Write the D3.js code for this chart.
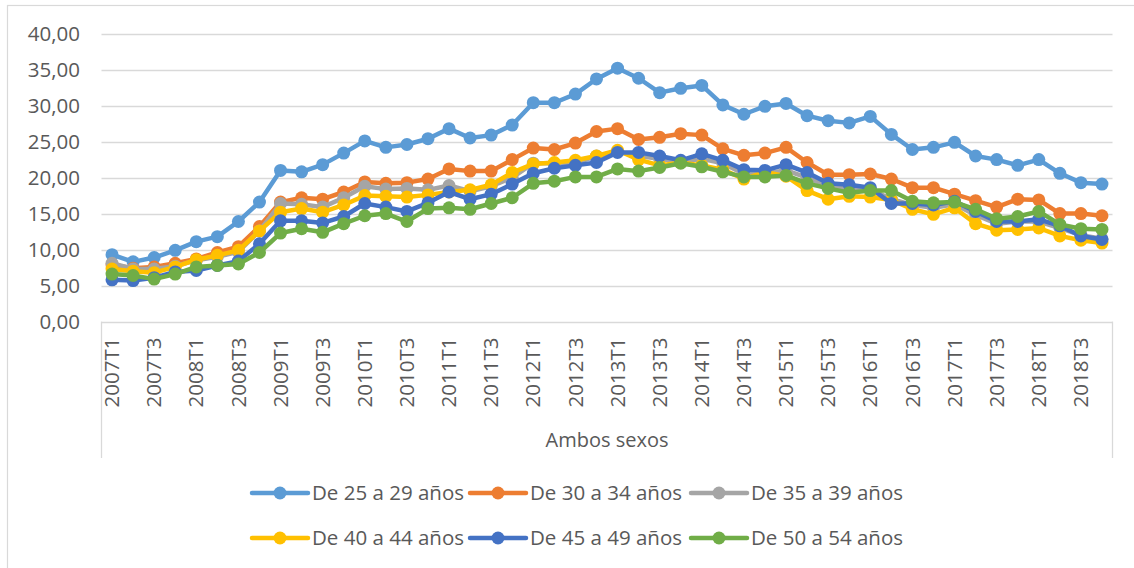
<!DOCTYPE html>
<html>
<head>
<meta charset="utf-8">
<script src="https://cdn.jsdelivr.net/npm/d3@7"></script>
<style>
  html, body { margin: 0; padding: 0; background: #fff; }
  svg { display: block; }
  text { font-family: "Open Sans", "Noto Sans", sans-serif; fill: #595959; }
</style>
</head>
<body>
<svg id="chart" width="1134" height="568"></svg>
<script>
const years = [2007, 2008, 2009, 2010, 2011, 2012, 2013, 2014, 2015, 2016, 2017, 2018];
const quarters = ["T1", "T2", "T3", "T4"];
const categories = years.flatMap(y => quarters.map(q => y + q));

const groupLabel = "Ambos sexos";
const yTicks = [0, 5, 10, 15, 20, 25, 30, 35, 40];

const seriesNames = ["De 25 a 29 años", "De 30 a 34 años", "De 35 a 39 años",
                     "De 40 a 44 años", "De 45 a 49 años", "De 50 a 54 años"];
const seriesColors = ["#5B9BD5", "#ED7D31", "#A5A5A5", "#FFC000", "#4472C4", "#70AD47"];

const s25_29 = [9.3, 8.3, 8.9, 9.9, 11.1, 11.8, 13.9, 16.6, 21.0, 20.8, 21.8, 23.4,
                25.1, 24.2, 24.6, 25.4, 26.8, 25.5, 25.9, 27.3, 30.4, 30.4, 31.6, 33.7,
                35.2, 33.8, 31.8, 32.4, 32.8, 30.1, 28.8, 29.9, 30.3, 28.6, 27.9, 27.6,
                28.5, 26.0, 23.9, 24.2, 24.9, 23.0, 22.5, 21.7, 22.5, 20.6, 19.3, 19.1];
const s30_34 = [7.9, 7.4, 7.6, 8.1, 8.7, 9.6, 10.4, 13.2, 16.6, 17.2, 17.0, 18.0,
                19.4, 19.2, 19.3, 19.8, 21.2, 20.9, 20.9, 22.5, 24.1, 23.9, 24.8, 26.4,
                26.8, 25.3, 25.6, 26.1, 25.9, 24.0, 23.1, 23.4, 24.2, 22.1, 20.4, 20.4,
                20.5, 19.8, 18.6, 18.6, 17.7, 16.8, 15.9, 17.0, 16.9, 15.0, 15.0, 14.7];
const s35_39 = [8.1, 7.3, 7.3, 7.7, 8.5, 9.0, 9.7, 12.6, 16.4, 16.3, 15.9, 17.2,
                18.8, 18.4, 18.5, 18.3, 18.9, 18.1, 18.8, 20.0, 22.0, 22.0, 22.0, 23.0,
                23.6, 23.0, 22.6, 22.2, 22.6, 22.0, 20.5, 20.6, 21.0, 20.0, 18.8, 18.5,
                18.4, 17.0, 16.2, 15.8, 16.3, 14.8, 13.6, 13.9, 13.9, 13.0, 12.0, 11.5];
const s40_44 = [7.3, 7.0, 6.8, 7.6, 8.6, 9.2, 9.9, 12.6, 15.2, 15.7, 15.2, 16.2,
                17.5, 17.4, 17.3, 17.6, 18.0, 18.3, 19.0, 20.7, 21.9, 22.1, 22.4, 23.0,
                23.8, 22.5, 21.7, 22.1, 21.7, 21.1, 19.8, 20.8, 20.2, 18.2, 17.0, 17.4,
                17.3, 16.9, 15.6, 14.9, 15.8, 13.6, 12.7, 12.8, 13.0, 11.9, 11.3, 10.9];
const s45_49 = [5.8, 5.7, 6.1, 6.9, 7.1, 7.8, 8.4, 10.8, 14.0, 14.0, 13.7, 14.6,
                16.4, 15.9, 15.3, 16.5, 18.0, 17.0, 17.7, 19.1, 20.6, 21.3, 21.7, 22.1,
                23.5, 23.5, 23.0, 22.4, 23.3, 22.4, 21.1, 21.0, 21.8, 20.7, 19.2, 19.0,
                18.6, 16.4, 16.4, 16.2, 16.7, 15.3, 13.9, 13.9, 14.2, 13.3, 11.9, 11.4];
const s50_54 = [6.6, 6.4, 5.9, 6.6, 7.6, 7.8, 8.0, 9.6, 12.3, 12.9, 12.4, 13.6,
                14.7, 15.0, 13.9, 15.7, 15.8, 15.6, 16.4, 17.2, 19.2, 19.5, 20.1, 20.1,
                21.2, 20.9, 21.4, 22.0, 21.5, 20.8, 20.1, 20.1, 20.3, 19.2, 18.5, 17.9,
                18.2, 18.2, 16.7, 16.5, 16.6, 15.6, 14.3, 14.6, 15.3, 13.5, 12.9, 12.8];
const seriesValues = [s25_29, s30_34, s35_39, s40_44, s45_49, s50_54];

const svg = d3.select("#chart");
const plot = { left: 101.5, right: 1112.5, top: 33.6, bottom: 321.6, boxBottom: 458 };

// chart area border
svg.append("rect").attr("x", 7.5).attr("y", 5.5).attr("width", 1200).attr("height", 700)
  .attr("fill", "none").attr("stroke", "#d9d9d9").attr("stroke-width", 1.2);

const x = d3.scaleBand().domain(categories).range([plot.left, plot.right]).padding(0);
const y = d3.scaleLinear().domain([0, 40]).range([plot.bottom, plot.top]);
const cx = c => x(c) + x.bandwidth() / 2;
const fmt = v => v.toFixed(2).replace(".", ",");

// gridlines
svg.append("g").selectAll("line").data(yTicks).join("line")
  .attr("x1", plot.left).attr("x2", plot.right)
  .attr("y1", d => Math.round(y(d)) + 0.5).attr("y2", d => Math.round(y(d)) + 0.5)
  .attr("stroke", "#d9d9d9").attr("stroke-width", 1.3);

// y axis labels
const yAxis = d3.axisLeft(y).tickValues(yTicks).tickFormat(fmt).tickSize(0).tickPadding(0);
const gy = svg.append("g").attr("transform", "translate(80,0)").call(yAxis);
gy.select(".domain").remove();
gy.selectAll("text").attr("font-size", 20.5).attr("fill", "#595959")
  .style("font-family", "'Open Sans', sans-serif");

// category box vertical lines
svg.append("g").selectAll("line").data([plot.left, plot.right]).join("line")
  .attr("x1", d => d).attr("x2", d => d).attr("y1", plot.bottom).attr("y2", plot.boxBottom)
  .attr("stroke", "#d9d9d9").attr("stroke-width", 1.3);

// x axis labels
const xAxis = d3.axisBottom(x).tickValues(categories.filter((c, i) => i % 2 === 0)).tickSize(0);
const gx = svg.append("g").attr("transform", `translate(0,${plot.bottom})`).call(xAxis);
gx.select(".domain").remove();
gx.selectAll("text")
  .attr("font-size", 20.5).attr("fill", "#595959")
  .style("font-family", "'Open Sans', sans-serif")
  .attr("text-anchor", "end").attr("dy", "0.35em")
  .attr("transform", "translate(0,16) rotate(-90)")
  .attr("x", 0).attr("y", 0);

svg.append("text").attr("x", (plot.left + plot.right) / 2).attr("y", 447)
  .attr("text-anchor", "middle").attr("font-size", 20).text(groupLabel);

// series
const line = d3.line().x((d, i) => cx(categories[i])).y(d => y(d));
seriesValues.forEach((vals, k) => {
  const g = svg.append("g");
  g.append("path").datum(vals).attr("d", line).attr("fill", "none")
    .attr("stroke", seriesColors[k]).attr("stroke-width", 4.5)
    .attr("stroke-linejoin", "round").attr("stroke-linecap", "round");
  g.selectAll("circle").data(vals).join("circle")
    .attr("cx", (d, i) => cx(categories[i])).attr("cy", d => y(d))
    .attr("r", 6.5).attr("fill", seriesColors[k]);
});

// legend
const legendItems = seriesNames.map((n, k) => ({ name: n, color: seriesColors[k], row: Math.floor(k / 3), col: k % 3 }));
const colX = [252, 470, 691];
const rowY = [493, 538];
const lg = svg.append("g").selectAll("g").data(legendItems).join("g")
  .attr("transform", d => `translate(${colX[d.col]},${rowY[d.row]})`);
lg.append("line").attr("x1", 0).attr("x2", 56).attr("y1", 0).attr("y2", 0)
  .attr("stroke", d => d.color).attr("stroke-width", 4.5).attr("stroke-linecap", "round");
lg.append("circle").attr("cx", 28).attr("cy", 0).attr("r", 6.5).attr("fill", d => d.color);
lg.append("text").attr("x", 60).attr("y", 0).attr("dy", "0.35em")
  .attr("font-size", 20.5).text(d => d.name);
</script>
</body>
</html>
